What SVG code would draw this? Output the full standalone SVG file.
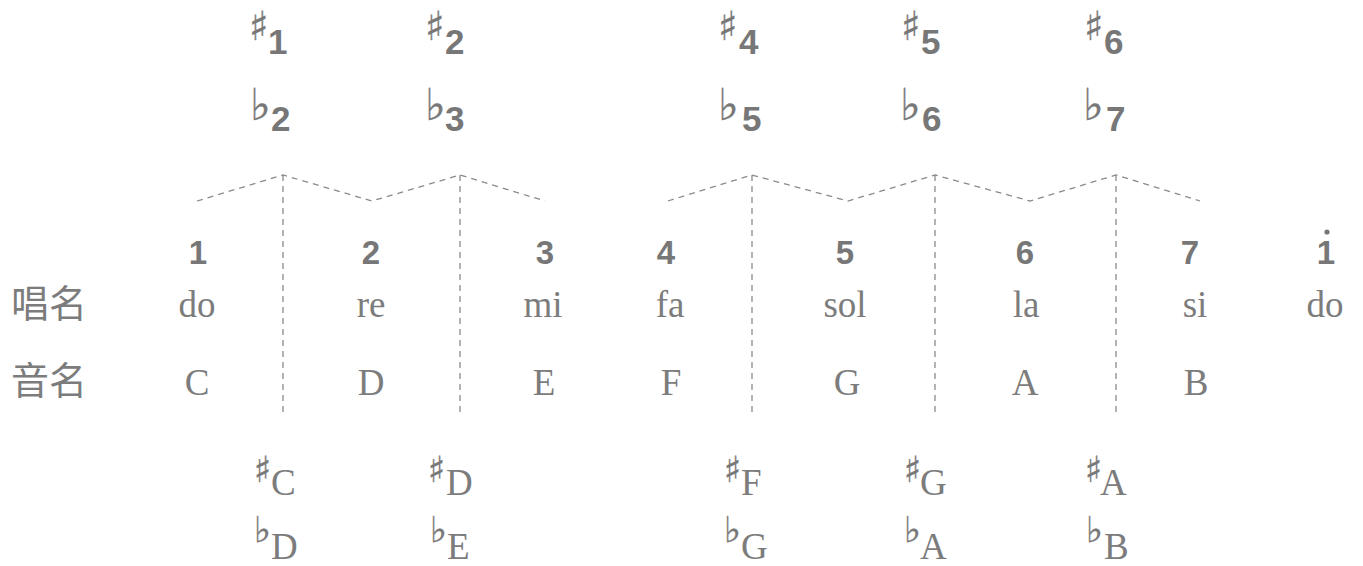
<svg xmlns="http://www.w3.org/2000/svg" width="1363" height="566" viewBox="0 0 1363 566">
<style>
.dg{font-family:"Liberation Sans",Arial,sans-serif;font-weight:bold;fill:#777;}
.top{font-size:35px;}
.mid{font-size:33px;text-anchor:middle;}
.sr{font-family:"Liberation Serif","Times New Roman",serif;font-size:37px;fill:#7c7c7c;}
.c{text-anchor:middle;}
.cjk{font-family:"Noto Sans CJK SC","Noto Sans CJK JP",sans-serif;font-size:38px;fill:#7c7c7c;}
.acc{font-family:"DejaVu Sans",sans-serif;fill:#777;stroke:#777;stroke-width:0.4;}
.s1{font-size:40px;}
.f1{font-size:44px;}
.s2{font-size:36px;}
.f2{font-size:36px;}
.dash{fill:none;stroke:#8a8a8a;stroke-width:1.3;stroke-dasharray:6 5;}
</style>
<rect width="1363" height="566" fill="#fff"/>
<g id="connectors">
<polyline class="dash" points="197,201 283,175 372,201 460,175 545,201"/>
<polyline class="dash" points="668,201 752,175 848,201 935,175 1030,201 1116,175 1200,201"/>
<line class="dash" x1="283" y1="175" x2="283" y2="415"/>
<line class="dash" x1="460" y1="175" x2="460" y2="415"/>
<line class="dash" x1="752" y1="175" x2="752" y2="415"/>
<line class="dash" x1="935" y1="175" x2="935" y2="415"/>
<line class="dash" x1="1116" y1="175" x2="1116" y2="415"/>
</g>
<g id="labels">
<text class="cjk" x="11" y="317">唱名</text>
<text class="cjk" x="11" y="394">音名</text>
</g>
<g id="top-sharps">
<text class="acc s1" x="249" y="40">♯</text><text class="dg top" x="268" y="54">1</text>
<text class="acc s1" x="425" y="40">♯</text><text class="dg top" x="445" y="54">2</text>
<text class="acc s1" x="718" y="40">♯</text><text class="dg top" x="739" y="54">4</text>
<text class="acc s1" x="901" y="40">♯</text><text class="dg top" x="921" y="54">5</text>
<text class="acc s1" x="1084" y="40">♯</text><text class="dg top" x="1104" y="54">6</text>
</g>
<g id="top-flats">
<text class="acc f1" x="250" y="120">♭</text><text class="dg top" x="271" y="131">2</text>
<text class="acc f1" x="425" y="120">♭</text><text class="dg top" x="445" y="131">3</text>
<text class="acc f1" x="718" y="120">♭</text><text class="dg top" x="742" y="131">5</text>
<text class="acc f1" x="900" y="120">♭</text><text class="dg top" x="922" y="131">6</text>
<text class="acc f1" x="1083" y="120">♭</text><text class="dg top" x="1106" y="131">7</text>
</g>
<g id="col-1"><text class="dg mid" x="198" y="264">1</text><text class="sr c" x="197" y="317">do</text><text class="sr c" x="197" y="395">C</text></g>
<g id="col-2"><text class="dg mid" x="371" y="264">2</text><text class="sr c" x="371" y="317">re</text><text class="sr c" x="371" y="395">D</text></g>
<g id="col-3"><text class="dg mid" x="545" y="264">3</text><text class="sr c" x="543" y="317">mi</text><text class="sr c" x="544" y="395">E</text></g>
<g id="col-4"><text class="dg mid" x="666" y="264">4</text><text class="sr c" x="670" y="317">fa</text><text class="sr c" x="671" y="395">F</text></g>
<g id="col-5"><text class="dg mid" x="845" y="264">5</text><text class="sr c" x="845" y="317">sol</text><text class="sr c" x="847" y="395">G</text></g>
<g id="col-6"><text class="dg mid" x="1025" y="264">6</text><text class="sr c" x="1026" y="317">la</text><text class="sr c" x="1025" y="395">A</text></g>
<g id="col-7"><text class="dg mid" x="1190" y="264">7</text><text class="sr c" x="1195" y="317">si</text><text class="sr c" x="1196" y="395">B</text></g>
<g id="col-8"><text class="dg mid" x="1326" y="264">1</text><circle cx="1327" cy="232" r="2.6" fill="#777"/><text class="sr c" x="1325" y="317">do</text></g>
<g id="bottom-sharps">
<text class="acc s2" x="254" y="482">♯</text><text class="sr" x="271" y="495">C</text>
<text class="acc s2" x="428" y="482">♯</text><text class="sr" x="446" y="495">D</text>
<text class="acc s2" x="724" y="482">♯</text><text class="sr" x="741" y="495">F</text>
<text class="acc s2" x="904" y="482">♯</text><text class="sr" x="920" y="495">G</text>
<text class="acc s2" x="1085" y="482">♯</text><text class="sr" x="1100" y="495">A</text>
</g>
<g id="bottom-flats">
<text class="acc f2" x="254" y="542">♭</text><text class="sr" x="271" y="559">D</text>
<text class="acc f2" x="430" y="542">♭</text><text class="sr" x="447" y="559">E</text>
<text class="acc f2" x="724" y="542">♭</text><text class="sr" x="741" y="559">G</text>
<text class="acc f2" x="904" y="542">♭</text><text class="sr" x="920" y="559">A</text>
<text class="acc f2" x="1086" y="542">♭</text><text class="sr" x="1104" y="559">B</text>
</g>
</svg>
